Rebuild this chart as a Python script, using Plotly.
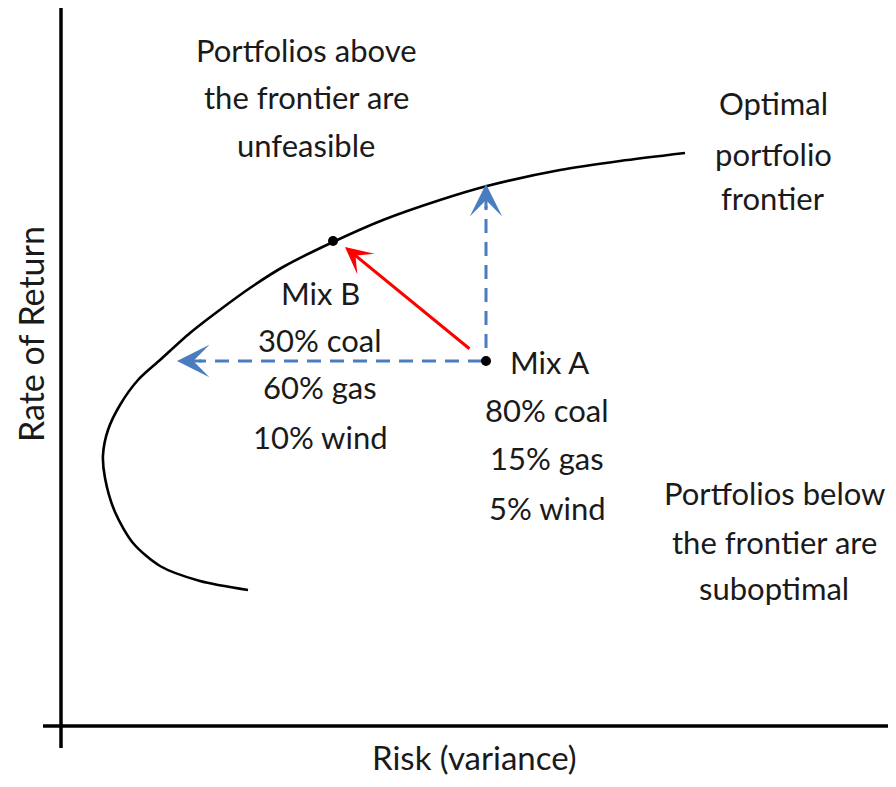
import plotly.graph_objects as go

# frontier curve (risk, return) in arbitrary units
frontier_risk = [18.7, 13.9, 9.9, 7.2, 5.4, 4.4, 4.2, 4.7, 5.9, 7.7, 9.9, 12.9, 15.6, 18.9, 22.2, 27.2, 32.2, 37.9, 42.6, 49.9, 55.9, 62.4]
frontier_return = [13.6, 14.5, 16.0, 18.3, 21.4, 24.8, 27.1, 29.6, 32.1, 34.6, 36.6, 39.3, 41.4, 43.8, 45.9, 48.4, 50.6, 52.6, 54.0, 55.6, 56.5, 57.3]

mix_names = ['Mix A', 'Mix B']
mix_risk = [42.5, 27.2]
mix_return = [36.5, 48.5]
mix_a_lines = ['80% coal', '15% gas', '5% wind']
mix_b_lines = ['30% coal', '60% gas', '10% wind']

# where the blue arrows end
same_return_risk = 11.6
same_risk_return = 54.2

above_lines = ['Portfolios above', 'the frontier are', 'unfeasible']
frontier_lines = ['Optimal', 'portfolio', 'frontier']
below_lines = ['Portfolios below', 'the frontier are', 'suboptimal']

FONT = 'Lato'
BLUE = '#4a7cc0'
fs = 31

fig = go.Figure()

fig.add_trace(go.Scatter(x=frontier_risk, y=frontier_return, mode='lines',
                         line=dict(color='black', width=2.6, shape='spline', smoothing=0.8),
                         hoverinfo='skip'))

# dashed blue guides
fig.add_trace(go.Scatter(x=[mix_risk[0] - 0.4, same_return_risk + 2.2], y=[mix_return[0], mix_return[0]],
                         mode='lines', line=dict(color=BLUE, width=3, dash='14px,9px')))
fig.add_trace(go.Scatter(x=[mix_risk[0], mix_risk[0]], y=[mix_return[0] + 1.3, same_risk_return - 2.2],
                         mode='lines', line=dict(color=BLUE, width=3, dash='14px,9px')))

fig.add_trace(go.Scatter(x=mix_risk, y=mix_return, mode='markers',
                         marker=dict(color='black', size=10), text=mix_names, hoverinfo='text'))

ann = []
# blue arrowheads
ann.append(dict(x=same_return_risk, y=mix_return[0], ax=same_return_risk + 2.6, ay=mix_return[0],
                xref='x', yref='y', axref='x', ayref='y', text='', showarrow=True,
                arrowhead=3, arrowsize=1.8, arrowwidth=3, arrowcolor=BLUE))
ann.append(dict(x=mix_risk[0], y=same_risk_return, ax=mix_risk[0], ay=same_risk_return - 2.6,
                xref='x', yref='y', axref='x', ayref='y', text='', showarrow=True,
                arrowhead=3, arrowsize=1.8, arrowwidth=3, arrowcolor=BLUE))
# red arrow A -> B
ann.append(dict(x=mix_risk[1] + 1.2, y=mix_return[1] - 0.6, ax=mix_risk[0] - 1.5, ay=mix_return[0] + 1.1,
                xref='x', yref='y', axref='x', ayref='y', text='', showarrow=True,
                arrowhead=3, arrowsize=1.5, arrowwidth=3, arrowcolor='#ff0000'))


def label(x, y, t, size=fs):
    ann.append(dict(x=x, y=y, xref='x', yref='y', text=t, showarrow=False,
                    font=dict(family=FONT, size=size, color='#1a1a1a'), xanchor='center', yanchor='middle'))


for t, y in zip(above_lines, [67.6, 62.9, 58.1]):
    label(24.5, y, t)
for t, y in zip(frontier_lines, [62.3, 57.2, 52.8]):
    label(71.2, y, t)
for t, y in zip(below_lines, [23.3, 18.4, 13.8]):
    label(71.3, y, t)
for t, y in zip([mix_names[1]] + mix_b_lines, [43.3, 38.6, 33.9, 28.9]):
    label(25.9, y, t)
label(48.8, 36.4, mix_names[0])
for t, y in zip(mix_a_lines, [31.6, 26.8, 21.8]):
    label(48.6, y, t)

label(41.3, -3.1, 'Risk (variance)', 33)
ann.append(dict(x=-3.1, y=39.2, xref='x', yref='y', text='Rate of Return', showarrow=False, textangle=-90,
                font=dict(family=FONT, size=34, color='#1a1a1a'), xanchor='center', yanchor='middle',
                borderpad=0))

# page body has an 8px margin, so the figure is 16px smaller and ranges shifted
fig.update_layout(
    width=880, height=771,
    margin=dict(l=0, r=0, t=0, b=0),
    plot_bgcolor='white', paper_bgcolor='white',
    showlegend=False,
    annotations=ann,
    shapes=[
        dict(type='line', xref='x', yref='y', x0=0, x1=0, y0=-2.2, y1=72.4, line=dict(color='black', width=3.5)),
        dict(type='line', xref='x', yref='y', x0=-1.8, x1=83.5, y0=0, y1=0, line=dict(color='black', width=3.5)),
    ],
    xaxis=dict(range=[-5.3, 82.7], visible=False, fixedrange=True),
    yaxis=dict(range=[-5.3, 71.8], visible=False, fixedrange=True),
)

fig.write_html("out.html")
